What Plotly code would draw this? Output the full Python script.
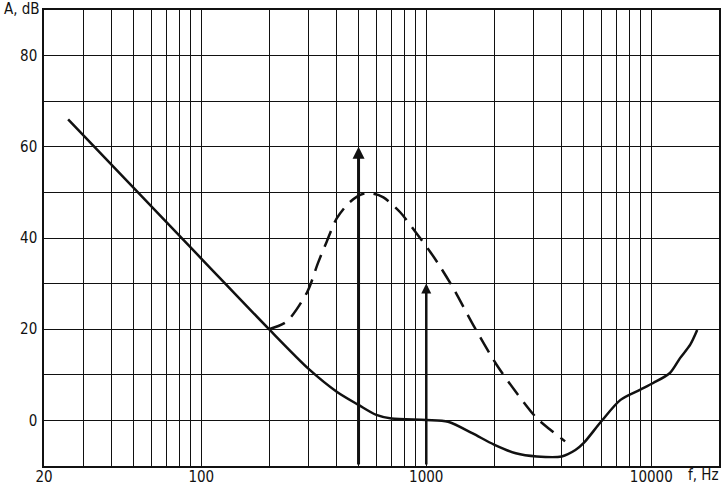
import numpy as np
import plotly.graph_objects as go

# ---- data ----
solid_f = [25.6, 100, 200, 300, 400, 500, 600, 700, 1000, 1250, 1600, 2000, 2500, 3100, 4000, 4600, 5000, 6000, 7300, 8900, 10200, 12100, 13400, 14900, 16000]
solid_db = [66, 35.5, 20, 11.3, 6.3, 3.4, 1.2, 0.4, 0.1, -0.3, -2.8, -5.3, -7.2, -7.9, -7.9, -6.5, -5.0, -0.2, 4.5, 6.7, 8.2, 10.4, 13.6, 16.6, 19.8]

dashed_f = [200, 240, 296, 330, 361, 400, 458, 525, 582, 645, 764, 906, 1040, 1150, 1318, 1618, 2054, 2523, 3096, 3549, 4140]
dashed_db = [20, 21.7, 28.2, 34.5, 39.2, 44.3, 47.9, 49.7, 49.7, 48.9, 45.7, 41, 37, 33.8, 29, 20.9, 12.2, 6, 0.5, -2, -4.6]

arrow_f = [500, 1000]
arrow_db = [60, 30]
arrow_base_db = -10

x_grid_vals = [20, 30, 40, 50, 60, 70, 80, 90,
               100, 200, 300, 400, 500, 600, 700, 800, 900,
               1000, 2000, 3000, 4000, 5000, 6000, 7000, 8000, 9000,
               10000, 20000]
x_label_map = {20: "20", 100: "100", 1000: "1000", 10000: "10000"}
x_tick_text = [x_label_map.get(v, "") for v in x_grid_vals]

y_grid_vals = [-10, 0, 10, 20, 30, 40, 50, 60, 70, 80, 90]
y_label_map = {0: "0", 20: "20", 40: "40", 60: "60", 80: "80"}
y_tick_text = [y_label_map.get(v, "") for v in y_grid_vals]

FONT = "DejaVu Sans Condensed, Liberation Sans Narrow, sans-serif"
FS = 15
INK = "#111111"

fig = go.Figure()
fig.add_trace(go.Scatter(x=solid_f, y=solid_db, mode="lines",
                         line=dict(color=INK, width=2.5, shape="spline", smoothing=0.8),
                         hoverinfo="skip"))
fig.add_trace(go.Scatter(x=dashed_f, y=dashed_db, mode="lines",
                         line=dict(color=INK, width=2.5, shape="spline", smoothing=0.8,
                                   dash="17px,9px"),
                         hoverinfo="skip"))

widths = [3, 2.5]
for f, db, w in zip(arrow_f, arrow_db, widths):
    fig.add_annotation(x=np.log10(f), y=db, ax=np.log10(f), ay=arrow_base_db,
                       xref="x", yref="y", axref="x", ayref="y",
                       showarrow=True, arrowhead=2, arrowsize=0.8, arrowwidth=w,
                       arrowcolor=INK, standoff=0, text="")

fig.add_annotation(x=(2 - 44) / 675, y=(466 - 9.5) / 456, xref="paper", yref="paper",
                   xanchor="left", yanchor="middle", text="A, dB", showarrow=False,
                   font=dict(family=FONT, size=FS, color=INK))
fig.add_annotation(x=(703 - 44) / 675, y=(466 - 475.5) / 456, xref="paper", yref="paper",
                   xanchor="center", yanchor="middle", text="f, Hz", showarrow=False,
                   font=dict(family=FONT, size=FS, color=INK))

fig.update_xaxes(type="log", range=[np.log10(20), np.log10(20000)],
                 tickmode="array", tickvals=x_grid_vals, ticktext=x_tick_text,
                 showgrid=True, gridcolor=INK, gridwidth=1.3,
                 showline=True, linecolor=INK, linewidth=1.5, mirror=True,
                 ticks="", zeroline=False, automargin=False, ticklabelstandoff=-4,
                 tickfont=dict(family=FONT, size=FS, color=INK))
fig.update_yaxes(range=[-10, 90], tickmode="array", tickvals=y_grid_vals, ticktext=y_tick_text,
                 showgrid=True, gridcolor=INK, gridwidth=1.3,
                 showline=True, linecolor=INK, linewidth=1.5, mirror=True,
                 ticks="", zeroline=False, automargin=False, ticklabelstandoff=2,
                 tickfont=dict(family=FONT, size=FS, color=INK))

fig.update_layout(width=723, height=485,
                  margin=dict(l=44, r=4, t=10, b=19, pad=0, autoexpand=False),
                  plot_bgcolor="white", paper_bgcolor="white",
                  showlegend=False)

fig.write_html("out.html", config={"displayModeBar": False},
               post_script="document.body.style.margin='0';document.body.style.overflow='hidden';")
